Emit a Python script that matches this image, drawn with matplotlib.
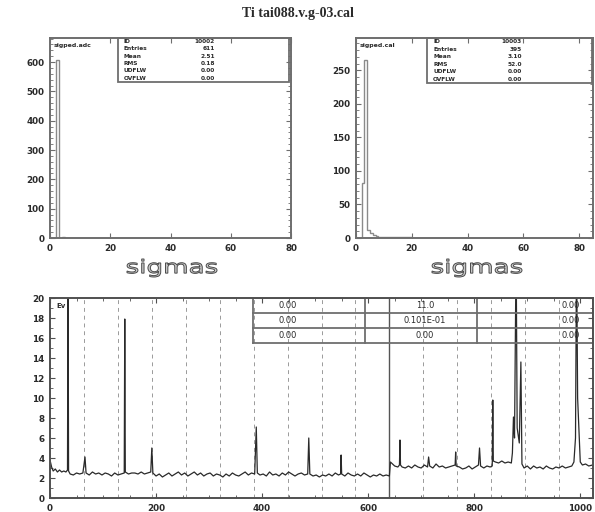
import numpy as np
import matplotlib
matplotlib.use("Agg")
import matplotlib.pyplot as plt
from matplotlib.patches import Rectangle, PathPatch
from matplotlib.textpath import TextPath
from matplotlib.font_manager import FontProperties
from matplotlib.transforms import Affine2D
from matplotlib.lines import Line2D

W, H = 595, 512

title = "Ti tai088.v.g-03.cal"

# ---- sigma distributions (unit-width bins, left edge -> entries) ----
left_sigma = [2, 4, 5]
left_counts = [607, 2, 1]
right_sigma = [2, 3, 4, 5, 6, 7, 8, 9, 10, 11, 12, 13, 14, 15, 16, 17, 18, 19]
right_counts = [82, 265, 12, 7, 4, 3, 2, 2, 2, 1, 2, 1, 1, 1, 1, 1, 1, 1]

left_name = "sigped.adc"
right_name = "sigped.cal"
stat_labels = ["ID", "Entries", "Mean", "RMS", "UDFLW", "OVFLW"]
left_stats = ["10002", "611", "2.51", "0.18", "0.00", "0.00"]
right_stats = ["10003", "395", "3.10", "52.0", "0.00", "0.00"]

left_yticks = [0, 100, 200, 300, 400, 500, 600]
right_yticks = [0, 50, 100, 150, 200, 250]
sigma_xticks = [0, 20, 40, 60, 80]
sigma_title = "sigmas"

# ---- channel spectrum ----
channels = [0, 3, 6, 10, 14, 18, 22, 26, 30, 33, 34, 35, 38, 44, 50, 56, 62, 66, 68,
            74, 80, 86, 92, 98, 104, 110, 116, 122, 128, 134, 140, 141, 142, 148,
            154, 160, 166, 172, 178, 184, 190, 192, 194, 200, 206, 212, 218, 224,
            230, 236, 242, 248, 254, 260, 266, 272, 278, 284, 290, 296, 302, 308,
            314, 320, 326, 332, 338, 344, 350, 356, 362, 368, 374, 380, 386, 389,
            391, 396, 402, 408, 414, 420, 426, 432, 438, 444, 450, 456, 462, 468,
            474, 480, 486, 488, 490, 496, 502, 508, 514, 520, 526, 532, 538, 544,
            548, 549, 550, 556, 562, 568, 574, 580, 586, 592, 598, 604, 610, 616,
            622, 628, 634, 640, 642, 646, 650, 656, 659, 660, 661, 664, 670, 676,
            682, 688, 694, 700, 706, 712, 714, 716, 722, 728, 734, 740, 746, 752,
            758, 764, 765, 766, 772, 778, 784, 790, 796, 802, 808, 810, 812, 818,
            824, 830, 834, 835, 836, 840, 846, 852, 858, 864, 870, 872, 874, 876,
            879, 881, 885, 888, 890, 894, 900, 906, 912, 918, 924, 930, 936, 942,
            948, 954, 960, 966, 972, 978, 984, 988, 991, 993, 995, 998, 1000, 1004,
            1010, 1016, 1023]
amplitude = [3.8, 3.1, 2.7, 2.9, 2.6, 2.8, 2.6, 2.7, 2.6, 2.8, 25.0, 2.7, 2.4, 2.3,
             2.5, 2.4, 2.5, 4.1, 2.5, 2.3, 2.6, 2.4, 2.5, 2.3, 2.5, 2.4, 2.2, 2.5,
             2.3, 2.4, 2.5, 17.9, 2.6, 2.4, 2.5, 2.5, 2.4, 2.6, 2.4, 2.5, 2.6, 5.0,
             2.5, 2.2, 2.4, 2.1, 2.3, 2.5, 2.2, 2.4, 2.6, 2.3, 2.5, 2.2, 2.4, 2.6,
             2.3, 2.5, 2.2, 2.4, 2.5, 2.2, 2.4, 2.3, 2.1, 2.4, 2.2, 2.5, 2.3, 2.2,
             2.4, 2.6, 2.3, 2.5, 2.4, 7.1, 2.5, 2.3, 2.4, 2.2, 2.6, 2.3, 2.4, 2.2,
             2.5, 2.3, 2.6, 2.4, 2.2, 2.4, 2.5, 2.3, 2.4, 6.0, 2.4, 2.2, 2.3, 2.1,
             2.3, 2.2, 2.4, 2.2, 2.5, 2.3, 2.4, 4.3, 2.4, 2.2, 2.5, 2.3, 2.2, 2.4,
             2.2, 2.5, 2.3, 2.1, 2.3, 2.2, 2.4, 2.2, 2.3, 2.2, 3.6, 3.4, 3.2, 3.1,
             3.3, 5.8, 3.3, 3.1, 3.0, 3.2, 3.0, 3.3, 3.1, 3.0, 3.3, 3.1, 4.1, 3.2,
             3.0, 3.4, 3.1, 3.2, 3.0, 3.1, 3.2, 3.3, 4.6, 3.2, 3.1, 2.9, 3.0, 3.2,
             2.9, 3.1, 3.3, 5.0, 3.2, 3.0, 3.2, 3.1, 3.2, 9.8, 3.7, 3.6, 3.5, 3.7,
             3.5, 3.6, 3.5, 4.5, 8.1, 6.0, 25.0, 7.0, 5.5, 13.6, 3.4, 3.0, 3.2, 2.9,
             3.2, 3.0, 3.1, 2.9, 3.2, 3.0, 2.9, 3.1, 3.0, 3.2, 3.0, 3.1, 3.2, 3.6,
             6.0, 25.0, 10.0, 6.2, 3.6, 3.3, 3.4, 3.2, 3.3]

spec_xticks = [0, 200, 400, 600, 800, 1000]
spec_yticks = [0, 2, 4, 6, 8, 10, 12, 14, 16, 18, 20]
spec_label = "Ev"
table_cells = [["0.00", "11.0", "0.00"],
               ["0.00", "0.101E-01", "0.00"],
               ["0.00", "0.00", "0.00"]]

FRAME = "#6e6e6e"
INK = "#2a2a2a"
TICKFONT = dict(family="DejaVu Sans", weight="bold", size=6.3)

fig = plt.figure(figsize=(W / 100, H / 100), dpi=100)
fig.patch.set_facecolor("white")


def px_axes(x0, y0, x1, y1):
    return fig.add_axes([x0 / W, 1 - y1 / H, (x1 - x0) / W, (y1 - y0) / H])


def fpt(x, y):
    return (x / W, 1 - y / H)


def style_axes(ax, color=FRAME, lw=1.4):
    for s in ax.spines.values():
        s.set_color(color)
        s.set_linewidth(lw)
    ax.tick_params(which="both", direction="in", top=True, right=True,
                   colors=color, labelcolor=INK, pad=4)
    ax.tick_params(which="major", length=3.5, width=0.8)
    ax.tick_params(which="minor", length=2, width=0.6)
    for lab in ax.get_xticklabels() + ax.get_yticklabels():
        lab.set_fontproperties(FontProperties(**TICKFONT))


def stretched_label(text, xc, y_top, y_bot, width):
    """Wide, thin-stroked axis caption drawn as a scaled outline."""
    path = TextPath((0, 0), text, size=20, prop=FontProperties(family="DejaVu Sans"))
    bb = path.get_extents()
    sx = width / bb.width
    sy = (y_bot - y_top) / bb.height
    tr = (Affine2D().translate(-bb.x0, -bb.y0).scale(sx, sy)
          .translate(xc - width / 2, H - y_bot))
    fig.add_artist(PathPatch(path, transform=tr, facecolor="#c8c8c8",
                             edgecolor="#4a4a4a", lw=0.7))


def stat_box(x0, x1, val_x, y0, y1, labels, values):
    fig.add_artist(Rectangle(fpt(x0, y1), (x1 - x0) / W, (y1 - y0) / H,
                             transform=fig.transFigure, fill=False,
                             edgecolor=FRAME, lw=1.3))
    n = len(labels)
    rh = (y1 - y0) / n
    for i, (lab, val) in enumerate(zip(labels, values)):
        yc = y0 + rh * (i + 0.5)
        fig.text(*fpt(x0 + 6, yc), lab, ha="left", va="center", fontsize=4.2,
                 weight="bold", color=INK)
        fig.text(*fpt(val_x, yc), val, ha="right", va="center", fontsize=4.2,
                 weight="bold", color=INK)


# ---- top-left histogram ----
axL = px_axes(50, 38, 291, 238)
edges_L = np.arange(0, 81, 1)
axL.hist(left_sigma, bins=edges_L, weights=left_counts, histtype="step",
         color="#8a8a8a", lw=1.0)
axL.set_xlim(0, 80)
axL.set_ylim(0, 682)
axL.set_xticks(sigma_xticks)
axL.set_yticks(left_yticks)
axL.yaxis.set_minor_locator(matplotlib.ticker.MultipleLocator(20))
style_axes(axL)
axL.text(0.015, 0.975, left_name, transform=axL.transAxes, ha="left", va="top",
         fontsize=4.5, weight="bold", color=INK)

# ---- top-right histogram ----
axR = px_axes(356, 38, 593, 238)
edges_R = np.arange(0, 86, 1)
axR.hist(right_sigma, bins=edges_R, weights=right_counts, histtype="step",
         color="#8a8a8a", lw=1.0)
axR.set_xlim(0, 85)
axR.set_ylim(0, 298)
axR.set_xticks(sigma_xticks)
axR.set_yticks(right_yticks)
axR.yaxis.set_minor_locator(matplotlib.ticker.MultipleLocator(10))
style_axes(axR)
axR.text(0.015, 0.975, right_name, transform=axR.transAxes, ha="left", va="top",
         fontsize=4.5, weight="bold", color=INK)

stat_box(118, 289, 215, 38, 82, stat_labels, left_stats)
stat_box(427, 592, 522, 38, 83, stat_labels, right_stats)

stretched_label(sigma_title, 172, 259, 277, 90)
stretched_label(sigma_title, 477, 259, 277, 90)

fig.text(0.5, 1 - 14 / H, title, ha="center", va="center",
         family="Liberation Serif", weight="bold", fontsize=10, color=INK)

# ---- bottom spectrum ----
axS = px_axes(50, 298, 593, 498)
for g in range(64, 1024, 64):
    if g == 640:
        axS.axvline(g, color="#555555", lw=1.0, zorder=1)
    else:
        axS.axvline(g, color="#9a9a9a", lw=0.7, ls=(0, (4, 4)), zorder=1)
axS.plot(channels, amplitude, color=INK, lw=0.9, zorder=2)
axS.set_xlim(0, 1024)
axS.set_ylim(0, 20)
axS.set_xticks(spec_xticks)
axS.set_yticks(spec_yticks)
axS.xaxis.set_minor_locator(matplotlib.ticker.MultipleLocator(50))
axS.yaxis.set_minor_locator(matplotlib.ticker.MultipleLocator(1))
style_axes(axS, color="#505050", lw=1.4)
axS.text(0.012, 0.975, spec_label, transform=axS.transAxes, ha="left", va="top",
         fontsize=5, weight="bold", color=INK)

# value table in the upper right of the spectrum
col_edges = [253, 365, 477, 593]
row_edges = [298, 313, 328, 343]
for xe in col_edges:
    axS.add_line(Line2D([xe / W] * 2, [1 - row_edges[0] / H, 1 - row_edges[-1] / H],
                        transform=fig.transFigure, color=FRAME, lw=1.3))
for ye in row_edges:
    axS.add_line(Line2D([col_edges[0] / W, col_edges[-1] / W], [1 - ye / H] * 2,
                        transform=fig.transFigure, color=FRAME, lw=1.3))
text_pos = [(288, "center"), (425, "center"), (580, "right")]
for r, row in enumerate(table_cells):
    yc = (row_edges[r] + row_edges[r + 1]) / 2
    for (xp, ha), val in zip(text_pos, row):
        fig.text(*fpt(xp, yc), val, ha=ha, va="center", fontsize=6,
                 color=INK, family="DejaVu Sans")

fig.savefig("out.png", dpi=100)
